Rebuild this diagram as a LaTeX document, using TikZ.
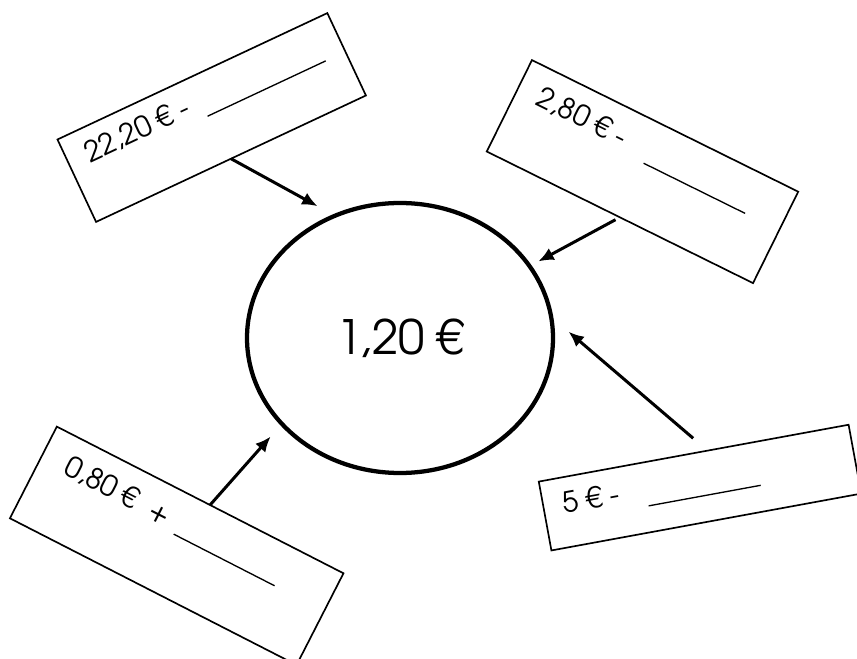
\documentclass[tikz,border=0pt]{standalone}
\usepackage{fontspec}
\setmainfont{TeX Gyre Adventor}
\usetikzlibrary{arrows.meta,calc,shapes.geometric}
\begin{document}
\begin{tikzpicture}[x=0.75pt,y=-0.75pt,
  boxst/.style={draw,rectangle,line width=1.25pt,inner sep=0pt,outer sep=0pt},
  lbl/.style={anchor=base west,inner sep=0pt,font=\fontsize{21.5pt}{24pt}\selectfont},
  uline/.style={line width=1pt},
  arr/.style={line width=2.25pt,-{Latex[length=11.5pt,width=10pt]}}]
\useasboundingbox (0,0) rectangle (857,659);
\node[ellipse,draw,line width=3.2pt,minimum width=229.5pt,minimum height=202.5pt,inner sep=0pt,outer sep=0pt,
  font=\fontsize{35.5pt}{40pt}\selectfont] (ell) at (400,338) {1,20 €};
\node[boxst,minimum width=223.5pt,minimum height=68.25pt,rotate=25.1] (box1) at (211.7,117.5) {};
\node[boxst,minimum width=222.75pt,minimum height=76.5pt,rotate=-26.3] (box2) at (642.5,171.6) {};
\node[boxst,minimum width=241.5pt,minimum height=77.25pt,rotate=-27.1] (box3) at (176.7,545.8) {};
\node[boxst,minimum width=236.25pt,minimum height=52.5pt,rotate=10.4] (box4) at (700,487.6) {};
\begin{scope}[shift={(box1.north west)},rotate=25.1,transform shape]
  \node[lbl] (t1) at (19.1,35.4) {22,20 € -};
  \draw[uline] (145.8,42.6) -- (276.3,42.6);
\end{scope}
\begin{scope}[shift={(box2.north west)},rotate=-26.3,transform shape]
  \node[lbl] (t2) at (21.7,38.5) {2,80 € -};
  \draw[uline] (145.8,43) -- (259,43);
\end{scope}
\begin{scope}[shift={(box3.north west)},rotate=-27.1,transform shape]
  \node[lbl] (t3) at (25.7,39.2) {0,80 €\ \ +};
  \draw[uline] (153,42.5) -- (266.3,42.5);
\end{scope}
\begin{scope}[shift={(box4.north west)},rotate=10.4,transform shape]
  \node[lbl] (t4) at (19.5,36.4) {5 € -};
  \draw[uline] (103.7,43.7) -- (217.6,43.7);
\end{scope}
\draw[arr,shorten >=15pt] (box1.south) -- (ell.118);
\draw[arr,shorten <=3.75pt,shorten >=7.5pt] (box2.south) -- (ell.29.1);
\draw[arr,shorten >=12.75pt] ($(box3.north)!0.069!(box3.north east)$) -- (ell.216.9);
\draw[arr,shorten <=14.25pt,shorten >=17.25pt] ($(box4.north)!0.09!(box4.north east)$) -- (ell.8.7);
\end{tikzpicture}
\end{document}
